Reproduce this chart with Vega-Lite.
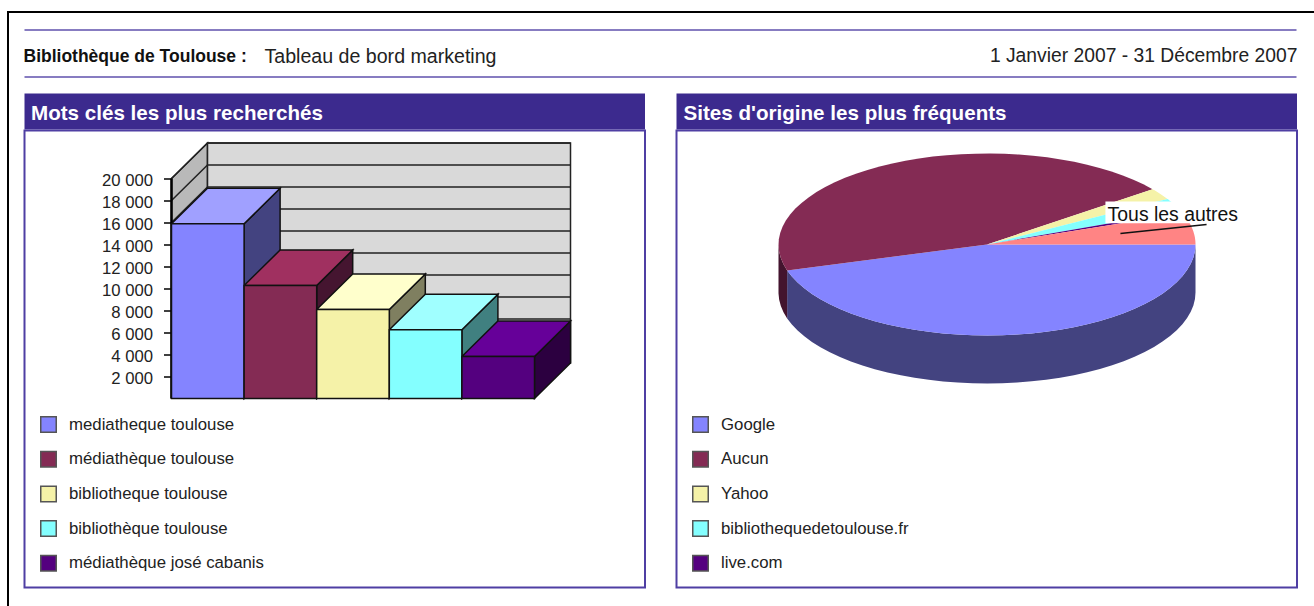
{
"$schema":"https://vega.github.io/schema/vega-lite/v6.json",
"padding":{"left":7,"top":11,"right":0,"bottom":0},
"background":"white",
"spacing":0,
"config":{"view":{"stroke":null},"font":"Liberation Sans","text":{"font":"Liberation Sans"}},
"datasets":{
"keywords":[{"keyword":"mediatheque toulouse","searches":15880},{"keyword":"médiathèque toulouse","searches":10270},{"keyword":"bibliotheque toulouse","searches":8090},{"keyword":"bibliothèque toulouse","searches":6245},{"keyword":"médiathèque josé cabanis","searches":3820}],
"sites":[{"site":"Google","share":45.4},{"site":"Aucun","share":44.2},{"site":"Yahoo","share":2.05},{"site":"bibliothequedetoulouse.fr","share":2.35},{"site":"live.com","share":0.45},{"site":"Tous les autres","share":5.55}],
"levels":[{"level":2000},{"level":4000},{"level":6000},{"level":8000},{"level":10000},{"level":12000},{"level":14000},{"level":16000},{"level":18000},{"level":20000}]
},
"vconcat":[
{"data":{"values":[{}]},"width":1307,"height":2,"mark":{"type":"rect","fill":"#000000"}},
{"spacing":14.5,"hconcat":[
{"data":{"values":[{}]},"width":2,"height":593,"mark":{"type":"rect","fill":"#000000"}},
{"spacing":15.5,"vconcat":[
{"width":1272,"height":64,"layer":[
{"data":{"values":[{"line":"top"},{"line":"bottom"}]},"mark":{"type":"rule","stroke":"#5f51ad","strokeWidth":1.5},"encoding":{"y":{"field":"line","type":"nominal","axis":null,"scale":{"type":"point","padding":0,"domain":["top","bottom"],"range":[17,64]}}}},
{"data":{"values":[{"t":"Bibliothèque de Toulouse :"}]},"mark":{"type":"text","align":"left","dx":-637,"dy":12,"fontSize":17.5,"fontWeight":"bold","fill":"#111111"},"encoding":{"text":{"field":"t"}}},
{"data":{"values":[{"t":"Tableau de bord marketing"}]},"mark":{"type":"text","align":"left","dx":-396,"dy":12,"fontSize":19.6,"fill":"#222222"},"encoding":{"text":{"field":"t"}}},
{"data":{"values":[{"t":"1 Janvier 2007 - 31 Décembre 2007"}]},"mark":{"type":"text","align":"right","dx":637,"dy":11,"fontSize":19.3,"fill":"#222222"},"encoding":{"text":{"field":"t"}}}
]},
{"spacing":29,"hconcat":[
{"spacing":0,"vconcat":[
{"width":620.5,"height":36,"data":{"values":[{"t":"Mots clés les plus recherchés"}]},"layer":[
{"mark":{"type":"rect","fill":"#3c2a8e"}},
{"mark":{"type":"text","align":"left","dx":-303.75,"dy":2.5,"fontSize":20.6,"fontWeight":"bold","fill":"#ffffff"},"encoding":{"text":{"field":"t"}}}
]},
{"width":620.5,"height":457,"view":{"stroke":"#4f3fa3","strokeWidth":2},
"encoding":{
"x":{"field":"px","type":"quantitative","axis":null,"scale":{"domain":[-2.0248,6.522],"nice":false,"zero":false}},
"y":{"field":"py","type":"quantitative","scale":{"domain":[-17182,24364],"nice":false,"zero":false},"axis":{"values":[2000,4000,6000,8000,10000,12000,14000,16000,18000,20000],"domain":false,"tickSize":8,"tickColor":"#000000","tickWidth":1.5,"grid":false,"title":null,"offset":-147,"labelPadding":11,"labelOffset":2,"labelFont":"Liberation Sans","labelFontSize":16.7,"labelColor":"#222222","labelExpr":"replace(format(datum.value,','),',',' ')"}}
},
"resolve":{"scale":{"fill":"independent"},"legend":{"fill":"independent"}},
"layer":[
{"data":{"values":[{"wall":"left"}]},"transform":[{"calculate":"[0,1,2,3,4]","as":"c"},{"flatten":["c"]},{"calculate":"[0,0.4959,0.4959,0,0][datum.c]","as":"px"},{"calculate":"[0,3227,23227,20000,0][datum.c]","as":"py"}],
"mark":{"type":"line","fill":"#b9b9b9","stroke":"#222222","strokeWidth":1.5},"encoding":{"order":{"field":"c","type":"quantitative"}}},
{"data":{"values":[{"wall":"back"}]},"transform":[{"calculate":"[0,1,2,3,4]","as":"c"},{"flatten":["c"]},{"calculate":"[0.4959,5.4959,5.4959,0.4959,0.4959][datum.c]","as":"px"},{"calculate":"[3227,3227,23227,23227,3227][datum.c]","as":"py"}],
"mark":{"type":"line","fill":"#d9d9d9","stroke":"#222222","strokeWidth":1.5},"encoding":{"order":{"field":"c","type":"quantitative"}}},
{"data":{"name":"levels"},"transform":[{"calculate":"[0,1,2]","as":"c"},{"flatten":["c"]},{"calculate":"[0,0.4959,5.4959][datum.c]","as":"px"},{"calculate":"datum.level+[0,3227,3227][datum.c]","as":"py"}],
"mark":{"type":"line","stroke":"#222222","strokeWidth":1.5},"encoding":{"detail":{"field":"level"},"order":{"field":"c","type":"quantitative"}}},
{"data":{"values":[{"end":0},{"end":20000}]},"transform":[{"calculate":"0","as":"px"},{"calculate":"datum.end","as":"py"}],
"mark":{"type":"line","stroke":"#000000","strokeWidth":2.5},"encoding":{"order":{"field":"end","type":"quantitative"}}},
{"data":{"name":"keywords"},"transform":[{"window":[{"op":"row_number","as":"n"}]},{"calculate":"[0,1,2,3,4]","as":"c"},{"flatten":["c"]},{"calculate":"datum.n+[0,0.4959,0.4959,0,0][datum.c]","as":"px"},{"calculate":"[datum.searches,datum.searches+3227,3227,0,datum.searches][datum.c]","as":"py"}],
"mark":{"type":"line","stroke":"#111111","strokeWidth":1.5},
"encoding":{"order":{"field":"c","type":"quantitative"},"fill":{"field":"keyword","type":"nominal","legend":null,"sort":null,"scale":{"domain":["mediatheque toulouse","médiathèque toulouse","bibliotheque toulouse","bibliothèque toulouse","médiathèque josé cabanis"],"range":["#434380","#451530","#7f7f60","#408080","#2c0040"]}}}},
{"data":{"name":"keywords"},"transform":[{"window":[{"op":"row_number","as":"n"}]},{"calculate":"[0,1,2,3,4]","as":"c"},{"flatten":["c"]},{"calculate":"datum.n-1+[0,1,1.4959,0.4959,0][datum.c]","as":"px"},{"calculate":"datum.searches+[0,0,3227,3227,0][datum.c]","as":"py"}],
"mark":{"type":"line","stroke":"#111111","strokeWidth":1.5},
"encoding":{"order":{"field":"c","type":"quantitative"},"fill":{"field":"keyword","type":"nominal","legend":null,"sort":null,"scale":{"domain":["mediatheque toulouse","médiathèque toulouse","bibliotheque toulouse","bibliothèque toulouse","médiathèque josé cabanis"],"range":["#a0a0ff","#a03060","#ffffcc","#a0ffff","#660099"]}}}},
{"data":{"name":"keywords"},"transform":[{"window":[{"op":"row_number","as":"n"}]},{"calculate":"datum.n-1","as":"px"},{"calculate":"datum.n","as":"px2"},{"calculate":"datum.searches","as":"py"},{"calculate":"0","as":"py0"}],
"mark":{"type":"rect","stroke":"#111111","strokeWidth":1.5},
"encoding":{"x2":{"field":"px2"},"y2":{"field":"py0"},"fill":{"field":"keyword","type":"nominal","sort":null,"scale":{"domain":["mediatheque toulouse","médiathèque toulouse","bibliotheque toulouse","bibliothèque toulouse","médiathèque josé cabanis"],"range":["#8484ff","#842b54","#f5f2a8","#84ffff","#54007f"]},
"legend":{"orient":"none","legendX":15.5,"legendY":285.5,"title":null,"padding":0,"symbolType":"square","symbolSize":240,"symbolStrokeColor":"#555555","symbolStrokeWidth":1.5,"rowPadding":11.7,"labelOffset":12,"labelFont":"Liberation Sans","labelFontSize":16.8,"labelColor":"#222222","labelLimit":400}}}}
]}
]},
{"spacing":0,"vconcat":[
{"width":620.5,"height":36,"data":{"values":[{"t":"Sites d'origine les plus fréquents"}]},"layer":[
{"mark":{"type":"rect","fill":"#3c2a8e"}},
{"mark":{"type":"text","align":"left","dx":-303.25,"dy":2.5,"fontSize":20.6,"fontWeight":"bold","fill":"#ffffff"},"encoding":{"text":{"field":"t"}}}
]},
{"width":620.5,"height":457,"view":{"stroke":"#4f3fa3","strokeWidth":2},
"encoding":{
"x":{"field":"px","type":"quantitative","axis":null,"scale":{"domain":[-1.4892,1.4868],"nice":false,"zero":false}},
"y":{"field":"py","type":"quantitative","axis":null,"scale":{"domain":[-1.2527,3.7692],"nice":false,"zero":false,"reverse":true}}
},
"resolve":{"scale":{"fill":"independent"},"legend":{"fill":"independent"}},
"layer":[
{"data":{"name":"sites"},"transform":[{"window":[{"op":"sum","field":"share","as":"cum"}]},{"calculate":"datum.cum-datum.share","as":"start"},{"filter":"datum.start<50"},{"calculate":"sequence(0,82)","as":"j"},{"flatten":["j"]},{"calculate":"datum.j<=40?datum.j:81-datum.j","as":"k"},{"calculate":"min(180,(datum.start+datum.share*datum.k/40)*3.6)*PI/180","as":"rad"},{"calculate":"cos(datum.rad)","as":"px"},{"calculate":"sin(datum.rad)+(datum.j<=40?0.527:0)","as":"py"}],
"mark":{"type":"line","strokeWidth":0},
"encoding":{"order":{"field":"j","type":"quantitative"},"fill":{"field":"site","type":"nominal","legend":null,"sort":null,"scale":{"domain":["Google","Aucun"],"range":["#434380","#43142e"]}}}},
{"data":{"name":"sites"},"transform":[{"window":[{"op":"sum","field":"share","as":"cum"}]},{"calculate":"datum.cum-datum.share","as":"start"},{"calculate":"sequence(-1,41)","as":"k"},{"flatten":["k"]},{"calculate":"(datum.start+datum.share*datum.k/40)*3.6*PI/180","as":"rad"},{"calculate":"datum.k<0?0:cos(datum.rad)","as":"px"},{"calculate":"datum.k<0?0:sin(datum.rad)","as":"py"}],
"mark":{"type":"line","strokeWidth":0},
"encoding":{"order":{"field":"k","type":"quantitative"},"fill":{"field":"site","type":"nominal","sort":null,"scale":{"domain":["Google","Aucun","Yahoo","bibliothequedetoulouse.fr","live.com","Tous les autres"],"range":["#8484ff","#842b54","#f5f2a8","#84ffff","#54007f","#ff8484"]},
"legend":{"values":["Google","Aucun","Yahoo","bibliothequedetoulouse.fr","live.com"],"orient":"none","legendX":15.5,"legendY":285.5,"title":null,"padding":0,"symbolType":"square","symbolSize":240,"symbolStrokeColor":"#555555","symbolStrokeWidth":1.5,"rowPadding":11.7,"labelOffset":12,"labelFont":"Liberation Sans","labelFontSize":16.8,"labelColor":"#222222","labelLimit":400}}}},
{"data":{"values":[{"label":"Tous les autres"}]},"transform":[{"calculate":"0.568","as":"px"},{"calculate":"1.216","as":"px2"},{"calculate":"-0.4725","as":"py"},{"calculate":"-0.234","as":"py2"}],
"mark":{"type":"rect","fill":"#ffffff"},"encoding":{"x2":{"field":"px2"},"y2":{"field":"py2"}}},
{"data":{"values":[{"end":0},{"end":1}]},"transform":[{"calculate":"[0.640,1.053][datum.end]","as":"px"},{"calculate":"[-0.121,-0.220][datum.end]","as":"py"}],
"mark":{"type":"line","stroke":"#111111","strokeWidth":1.5},"encoding":{"order":{"field":"end","type":"quantitative"}}},
{"data":{"values":[{"label":"Tous les autres"}]},"transform":[{"calculate":"0.5785","as":"px"},{"calculate":"-0.33","as":"py"}],
"mark":{"type":"text","align":"left","fontSize":19.4,"fill":"#111111","dy":1},"encoding":{"text":{"field":"label"}}}
]}
]}
]}
]}
]}
]
}
